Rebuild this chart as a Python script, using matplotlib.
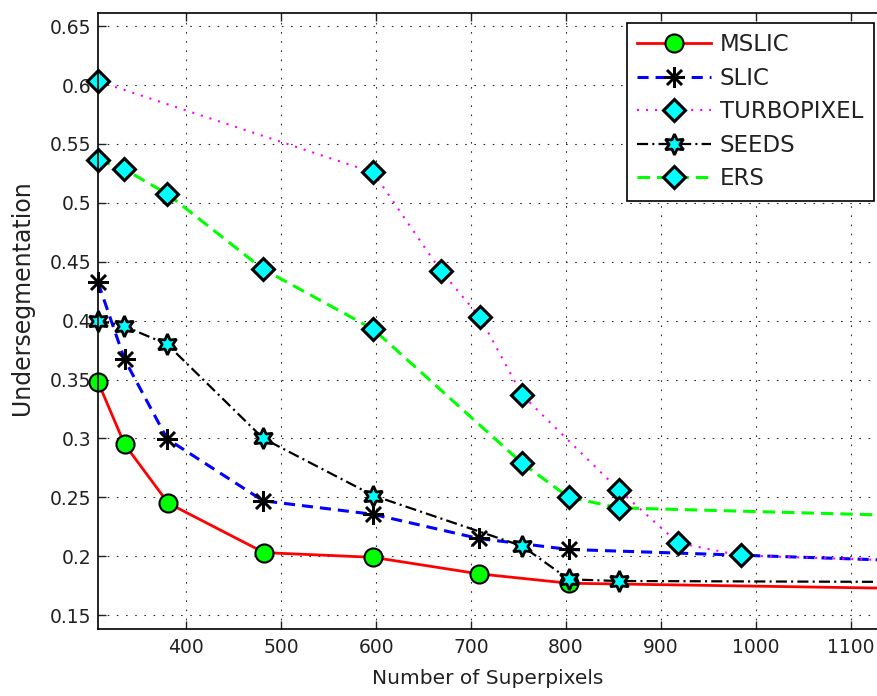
import numpy as np
import matplotlib
matplotlib.use('Agg')
from matplotlib import pyplot as plt

plt.rcParams['font.family'] = ['DejaVu Sans']
plt.rcParams['lines.scale_dashes'] = False

# undersegmentation error vs. number of superpixels
mslic_x = [307, 335, 381, 482, 597, 708, 803, 1200]
mslic_y = [0.348, 0.295, 0.245, 0.203, 0.199, 0.185, 0.177, 0.172]

slic_x = [307, 335, 380, 481, 597, 708, 803, 1200]
slic_y = [0.4325, 0.367, 0.2995, 0.247, 0.2355, 0.215, 0.2057, 0.195]

turbo_x = [307, 597, 668, 709, 754, 856, 918, 984, 1200]
turbo_y = [0.6033, 0.5258, 0.4424, 0.4034, 0.3367, 0.256, 0.2113, 0.2006, 0.195]

seeds_x = [307, 334, 380, 481, 597, 754, 803, 856, 1200]
seeds_y = [0.400, 0.3955, 0.3798, 0.300, 0.2515, 0.2085, 0.1803, 0.1789, 0.178]

ers_x = [307, 334, 380, 481, 597, 754, 803, 856, 1200]
ers_y = [0.5364, 0.5289, 0.5076, 0.4437, 0.3927, 0.2788, 0.250, 0.241, 0.2335]

x_ticks = [400, 500, 600, 700, 800, 900, 1000, 1100]
y_ticks = [0.15, 0.2, 0.25, 0.3, 0.35, 0.4, 0.45, 0.5, 0.55, 0.6, 0.65]
y_tick_labels = ['0.15', '0.2', '0.25', '0.3', '0.35', '0.4', '0.45', '0.5', '0.55', '0.6', '0.65']

fig = plt.figure(figsize=(8.78, 6.96), dpi=100)
ax = fig.add_axes([0.1116, 0.0967, 0.9112, 0.8851])

hexagram = (6, 1, 0)
asterisk = (8, 2, 0)

ax.plot(mslic_x, mslic_y, color='red', lw=2.0, ls='-',
        marker='o', ms=13, mfc=(0, 1, 0), mec='black', mew=1.5,
        label='MSLIC', clip_on=False)
ax.plot(slic_x, slic_y, color='blue', lw=2.2, dashes=(8, 5),
        marker=asterisk, ms=15, mec='black', mew=1.8,
        label='SLIC', clip_on=False)
ax.plot(turbo_x, turbo_y, color=(1, 0, 1), lw=1.5, dashes=(1.5, 5),
        marker='D', ms=11, mfc=(0, 1, 1), mec='black', mew=2.2,
        label='TURBOPIXEL', clip_on=False)
ax.plot(seeds_x, seeds_y, color='black', lw=1.6, dashes=(8, 3, 1.5, 3),
        marker=hexagram, ms=15, mfc=(0, 1, 1), mec='black', mew=2.0,
        label='SEEDS', clip_on=False)
ax.plot(ers_x, ers_y, color=(0, 1, 0), lw=2.2, dashes=(9, 5),
        marker='D', ms=11, mfc=(0, 1, 1), mec='black', mew=2.2,
        label='ERS', clip_on=False)

ax.set_xlim(307, 1149.8)
ax.set_ylim(0.1384, 0.6615)
ax.set_xticks(x_ticks)
ax.set_yticks(y_ticks)
ax.set_yticklabels(y_tick_labels)

ax.grid(True, color='#333333', lw=0.8, ls=(0, (1.2, 5.4)))
ax.tick_params(direction='in', length=6, width=1, top=True, right=True,
               labelsize=13.5, colors='#222222')
ax.tick_params(axis='x', pad=7)
ax.tick_params(axis='y', pad=5)
for sp in ax.spines.values():
    sp.set_linewidth(1.2)

ax.set_xlabel('Number of Superpixels', fontsize=14.5, color='#222222')
ax.xaxis.set_label_coords(488 / 878, 1 - 678 / 696, transform=fig.transFigure)
ax.xaxis.label.set_va('center')
ax.set_ylabel('Undersegmentation', fontsize=17, color='#222222')
ax.yaxis.set_label_coords(22 / 878, 1 - 297.5 / 696, transform=fig.transFigure)
ax.yaxis.label.set_va('center')

leg = ax.legend(loc='upper left', bbox_to_anchor=(627 / 878, 1 - 23 / 696),
                bbox_transform=fig.transFigure, borderaxespad=0,
                fontsize=16.5, numpoints=1, handlelength=3.2, handletextpad=0.4,
                labelspacing=0.46, borderpad=0.45, fancybox=False,
                framealpha=1, edgecolor='black')
leg.get_frame().set_linewidth(1.2)
for t in leg.get_texts():
    t.set_color('#222222')

fig.savefig('out.png', dpi=100)
